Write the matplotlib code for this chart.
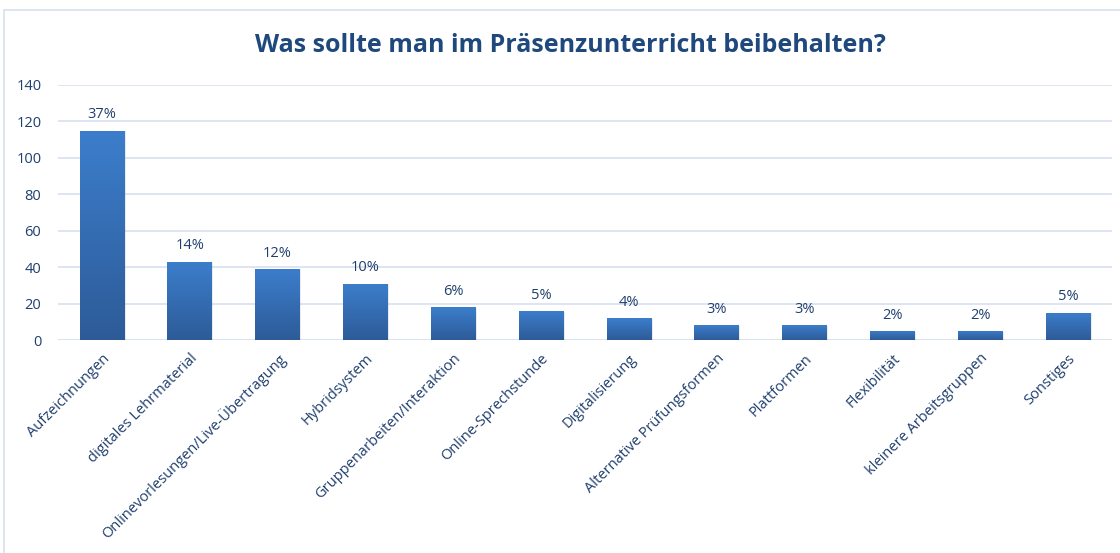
import numpy as np
import matplotlib
matplotlib.use("Agg")
import matplotlib.pyplot as plt
from matplotlib.patches import Rectangle

# ── Data ──────────────────────────────────────────────────────────────────────

categories = [
    "Aufzeichnungen", "digitales Lehrmaterial", "Onlinevorlesungen/Live-Übertragung",
    "Hybridsystem", "Gruppenarbeiten/Interaktion", "Online-Sprechstunde",
    "Digitalisierung", "Alternative Prüfungsformen", "Plattformen",
    "Flexibilität", "kleinere Arbeitsgruppen", "Sonstiges",
]
counts = [115, 43, 39, 31, 18, 16, 12, 8, 8, 5, 5, 15]
y_ticks = [0, 20, 40, 60, 80, 100, 120, 140]

title = "Was sollte man im Präsenzunterricht beibehalten?"

# ── Style ─────────────────────────────────────────────────────────────────────

TEXT_COL  = "#1F3F6E"
TITLE_COL = "#1F497D"
GRID_COL  = "#D9E3F0"
TOP_COL   = np.array([0x3C, 0x7E, 0xCC]) / 255
BOT_COL   = np.array([0x2D, 0x5B, 0x98]) / 255

plt.rcParams["font.family"] = ["Open Sans", "DejaVu Sans"]

fig = plt.figure(figsize=(11.2, 5.53), dpi=100)
ax = fig.add_axes([58 / 1120, 1 - 340 / 553, (1112 - 58) / 1120, (340 - 85) / 553])

x = np.arange(len(categories))
bars = ax.bar(x, counts, width=0.51, color="none", zorder=3)

# vertical gradient inside each bar
grad = np.linspace(0, 1, 256)[:, None]
grad_img = BOT_COL[None, None, :] * (1 - grad[..., None]) + TOP_COL[None, None, :] * grad[..., None]
for b in bars:
    x0, w, h = b.get_x(), b.get_width(), b.get_height()
    # soft shadow
    ax.add_patch(Rectangle((x0 + 0.015, 0), w, h - 0.4, color="#000000", alpha=0.08, zorder=2, lw=0))
    im = ax.imshow(grad_img, extent=(x0, x0 + w, 0, h), origin="lower",
                   aspect="auto", zorder=3)
    im.set_clip_path(b)

total = sum(counts)
for xi, c in zip(x, counts):
    ax.annotate(f"{round(100 * c / total)}%", (xi, c), xytext=(0, 6),
                textcoords="offset points", ha="center", va="bottom",
                fontsize=10.5, color=TEXT_COL)

ax.set_xlim(-0.5, len(categories) - 0.5)
ax.set_ylim(0, 140)
ax.set_yticks(y_ticks)
ax.yaxis.grid(True, color=GRID_COL, lw=1.3, zorder=0)
ax.set_axisbelow(True)
for s in ax.spines.values():
    s.set_visible(False)
ax.axhline(0, color=GRID_COL, lw=1.3, zorder=1)

ax.set_xticks(x)
ax.set_xticklabels(categories, rotation=45, ha="right", rotation_mode="anchor",
                   fontsize=10.5, color=TEXT_COL)
ax.tick_params(axis="x", length=0, pad=8)
ax.tick_params(axis="y", length=0, pad=12, labelsize=10.5, labelcolor=TEXT_COL)

fig.text(570 / 1120, 1 - 46 / 553, title, ha="center", va="center",
         fontsize=18, fontweight="bold", color=TITLE_COL)

# chart frame
fig.patches.append(Rectangle((4 / 1120, -0.05), 1.2, 1 - 10 / 553 + 0.05, transform=fig.transFigure,
                             fill=False, edgecolor="#D6E0EE", lw=1.2))

fig.savefig("out.png", dpi=100)
